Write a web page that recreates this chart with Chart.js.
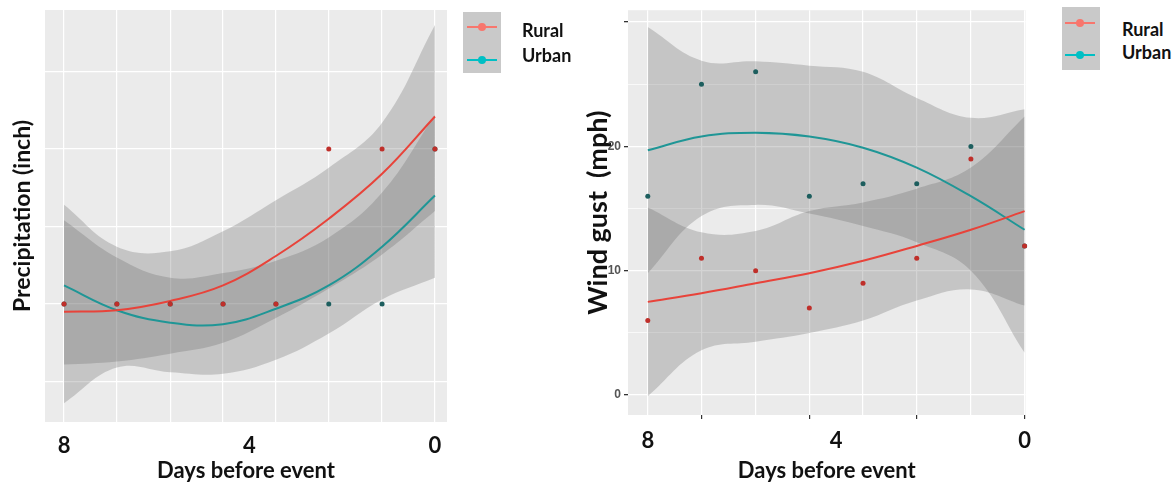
<!DOCTYPE html>
<html>
<head>
<meta charset="utf-8">
<script src="https://cdn.jsdelivr.net/npm/chart.js@4.4.1/dist/chart.umd.min.js"></script>
<style>
  body { margin: 0; background: #fff; width: 1173px; height: 487px; position: relative; overflow: hidden; font-family: Lato, sans-serif; }
  canvas { position: absolute; top: 0; }
  .keybox { position: absolute; background: #c9c9c9; }
  .key { position: absolute; height: 2px; width: 30px; }
  .key::after { content: ''; position: absolute; left: 11px; top: -3px; width: 8px; height: 8px; border-radius: 50%; background: inherit; }
  .lbl { position: absolute; font: bold 18px Lato, sans-serif; color: #111; line-height: 18px; }
</style>
</head>
<body>
<canvas id="precip" style="left:0px"></canvas>
<canvas id="wind" style="left:570px"></canvas>

<div class="keybox" style="left:463px;top:12px;width:38px;height:61px"></div>
<div class="key" style="left:467px;top:26px;background:#f8766d"></div>
<div class="key" style="left:467px;top:59px;background:#00bfc4"></div>
<div class="lbl" style="left:522px;top:21px">Rural</div>
<div class="lbl" style="left:522px;top:46px">Urban</div>

<div class="keybox" style="left:1062px;top:7px;width:38px;height:63px"></div>
<div class="key" style="left:1065px;top:22px;background:#f8766d"></div>
<div class="key" style="left:1065px;top:54px;background:#00bfc4"></div>
<div class="lbl" style="left:1122px;top:20px">Rural</div>
<div class="lbl" style="left:1122px;top:43px">Urban</div>

<script>
// x positions of the observations (days before event)
const days = [8, 6.86, 5.71, 4.57, 3.43, 2.29, 1.14, 0];
const xTickLabels = [8, 4, 0];

// left panel: precipitation (no y labels in the source)
const precipRural = [0, 0, 0, 0, 0, 1, 1, 1];
const precipUrban = [0, 0, 0, 0, 0, 0, 0, 1];
const precipFitRural = [-0.05, -0.04, 0.02, 0.12, 0.31, 0.55, 0.84, 1.21];
const precipFitUrban = [0.12, -0.04, -0.12, -0.13, -0.03, 0.12, 0.37, 0.70];
// confidence ribbons, split by their visible edges
const precipBandOuterHi = [0.64, 0.37, 0.34, 0.47, 0.67, 0.88, 1.17, 1.80];
const precipBandInnerHi = [0.54, 0.30, 0.17, 0.20, 0.28, 0.43, 0.72, 1.22];
const precipBandInnerLo = [-0.39, -0.37, -0.32, -0.25, -0.09, 0.10, 0.32, 0.60];
const precipBandOuterLo = [-0.64, -0.41, -0.44, -0.45, -0.36, -0.19, 0.03, 0.17];
const precipYGrid = [-0.5, 0, 0.5, 1, 1.5];

// right panel: wind gust
const windRural = [6, 11, 10, 7, 9, 11, 19, 12];
const windUrban = [16, 25, 26, 16, 17, 17, 20, 12];
const windFitRural = [7.5, 8.2, 9.0, 9.8, 10.8, 12.0, 13.3, 14.8];
const windFitUrban = [19.7, 20.8, 21.1, 20.8, 19.9, 18.3, 16.0, 13.3];
const windRuralHi = [15.1, 13.1, 13.2, 14.8, 15.5, 16.6, 18.3, 22.4];
const windRuralLo = [-0.1, 3.6, 4.3, 5.0, 6.0, 7.6, 8.5, 7.2];
const windUrbanHi = [29.6, 26.9, 26.85, 26.5, 26.0, 23.9, 22.3, 23.0];
const windUrbanLo = [9.8, 14.4, 15.3, 14.6, 13.6, 12.3, 10.0, 3.4];
const windYGrid = [0, 5, 10, 15, 20, 25, 30];
const windYLabels = [0, 10, 20];
const windTickDays = [6.86, 4.57, 2.29, 0];

const ruralLine = '#e8433a';
const urbanLine = '#1f9696';
const ruralPoint = '#bf2f2a';
const urbanPoint = '#1d5e5e';
const bandFill = 'rgba(100,100,100,0.28)';

const xy = vals => days.map((d, i) => ({ x: d, y: vals[i] }));
const xTicks = [...days, 4].sort((a, b) => b - a);

const panelBg = {
  id: 'panelBg',
  beforeDraw(chart) {
    const { ctx, chartArea: a } = chart;
    ctx.save();
    ctx.fillStyle = '#ebebeb';
    ctx.fillRect(a.left, a.top, a.right - a.left, a.bottom - a.top);
    ctx.restore();
  }
};

function datasets(rural, urban, fitRural, fitUrban, bandA, bandB) {
  const pts = (vals, color) => ({
    data: xy(vals), showLine: false, pointRadius: 2.5, pointBorderWidth: 0,
    pointBackgroundColor: color, borderColor: 'transparent', clip: false
  });
  const line = (vals, color) => ({
    data: xy(vals), borderColor: color, borderWidth: 2, pointRadius: 0,
    tension: 0.4, fill: false
  });
  const edge = (vals, fill) => ({
    data: xy(vals), borderColor: 'transparent', borderWidth: 0, pointRadius: 0,
    tension: 0.4, fill: fill ? '+1' : false, backgroundColor: bandFill
  });
  // first in the list is drawn on top
  return [
    pts(rural, ruralPoint), pts(urban, urbanPoint),
    line(fitRural, ruralLine), line(fitUrban, urbanLine),
    edge(bandA[0], true), edge(bandA[1], false),
    edge(bandB[0], true), edge(bandB[1], false)
  ];
}

function makeChart(id, w, pad, p) {
  const el = document.getElementById(id);
  el.width = w; el.height = 487;
  el.style.width = w + 'px'; el.style.height = '487px';
  return new Chart(el, {
    type: 'line',
    data: { datasets: p.datasets },
    plugins: [panelBg],
    options: {
      responsive: false,
      animation: false,
      layout: { padding: pad },
      plugins: { legend: { display: false }, tooltip: { enabled: false } },
      scales: {
        x: {
          type: 'linear', reverse: true, min: p.xMin, max: p.xMax,
          afterBuildTicks: s => { s.ticks = xTicks.map(v => ({ value: v })); },
          afterFit: s => { s.height = p.xHeight; },
          border: { display: false },
          grid: {
            color: c => days.includes(c.tick.value) ? '#ffffff' : 'transparent',
            lineWidth: 1.2,
            tickLength: 4,
            tickColor: c => p.tickDays.includes(c.tick.value) ? '#333333' : 'transparent'
          },
          ticks: {
            autoSkip: false, maxRotation: 0, padding: p.xPad, color: '#111',
            font: { family: 'Lato', weight: 'bold', size: 22 },
            callback: v => xTickLabels.includes(v) ? String(v) : ''
          },
          title: {
            display: true, text: 'Days before event', color: '#111',
            font: { family: 'Lato', weight: 'bold', size: 22 },
            padding: { top: 0, bottom: 3 }
          }
        },
        y: {
          type: 'linear', min: p.yMin, max: p.yMax,
          afterBuildTicks: s => { s.ticks = p.yGrid.map(v => ({ value: v })); },
          afterFit: s => { s.width = p.yWidth; },
          border: { display: false },
          grid: {
            color: '#ffffff',
            lineWidth: c => p.yMajor(c.tick.value) ? 1.3 : 0.7,
            drawTicks: p.yTicks,
            tickLength: 4,
            tickColor: c => p.yMajor(c.tick.value) ? '#333333' : 'transparent'
          },
          ticks: {
            display: p.yTicks, padding: 3, color: '#555',
            font: { family: 'Liberation Sans', weight: 'bold', size: 12 },
            callback: v => p.yLabels.includes(v) ? String(v) : ''
          },
          title: {
            display: true, text: p.yTitle, color: '#111',
            font: { family: 'Lato', weight: 'bold', size: p.yTitleSize },
            padding: { top: p.yTitlePad, bottom: 0 }
          }
        }
      }
    }
  });
}

makeChart('precip', 460, { top: 10, right: 13, left: 0, bottom: 0 }, {
  datasets: datasets(precipRural, precipUrban, precipFitRural, precipFitUrban,
    [precipBandOuterHi, precipBandInnerLo], [precipBandInnerHi, precipBandOuterLo]),
  xMin: -0.26, xMax: 8.41, xHeight: 65, xPad: 7, tickDays: [],
  yMin: -0.761, yMax: 1.897, yGrid: precipYGrid, yWidth: 45, yTicks: false, yLabels: [],
  yMajor: () => true,
  yTitle: 'Precipitation (inch)', yTitleSize: 23, yTitlePad: 9
});

makeChart('wind', 470, { top: 8, right: 11, left: 0, bottom: 0 }, {
  datasets: datasets(windRural, windUrban, windFitRural, windFitUrban,
    [windRuralHi, windRuralLo], [windUrbanHi, windUrbanLo]),
  xMin: -0.02, xMax: 8.42, xHeight: 72, xPad: 9, tickDays: windTickDays,
  yMin: -1.6, yMax: 30.96, yGrid: windYGrid, yWidth: 58, yTicks: true, yLabels: windYLabels,
  yMajor: v => v % 10 === 0,
  yTitle: 'Wind gust  (mph)', yTitleSize: 27, yTitlePad: 12
});
</script>
</body>
</html>
